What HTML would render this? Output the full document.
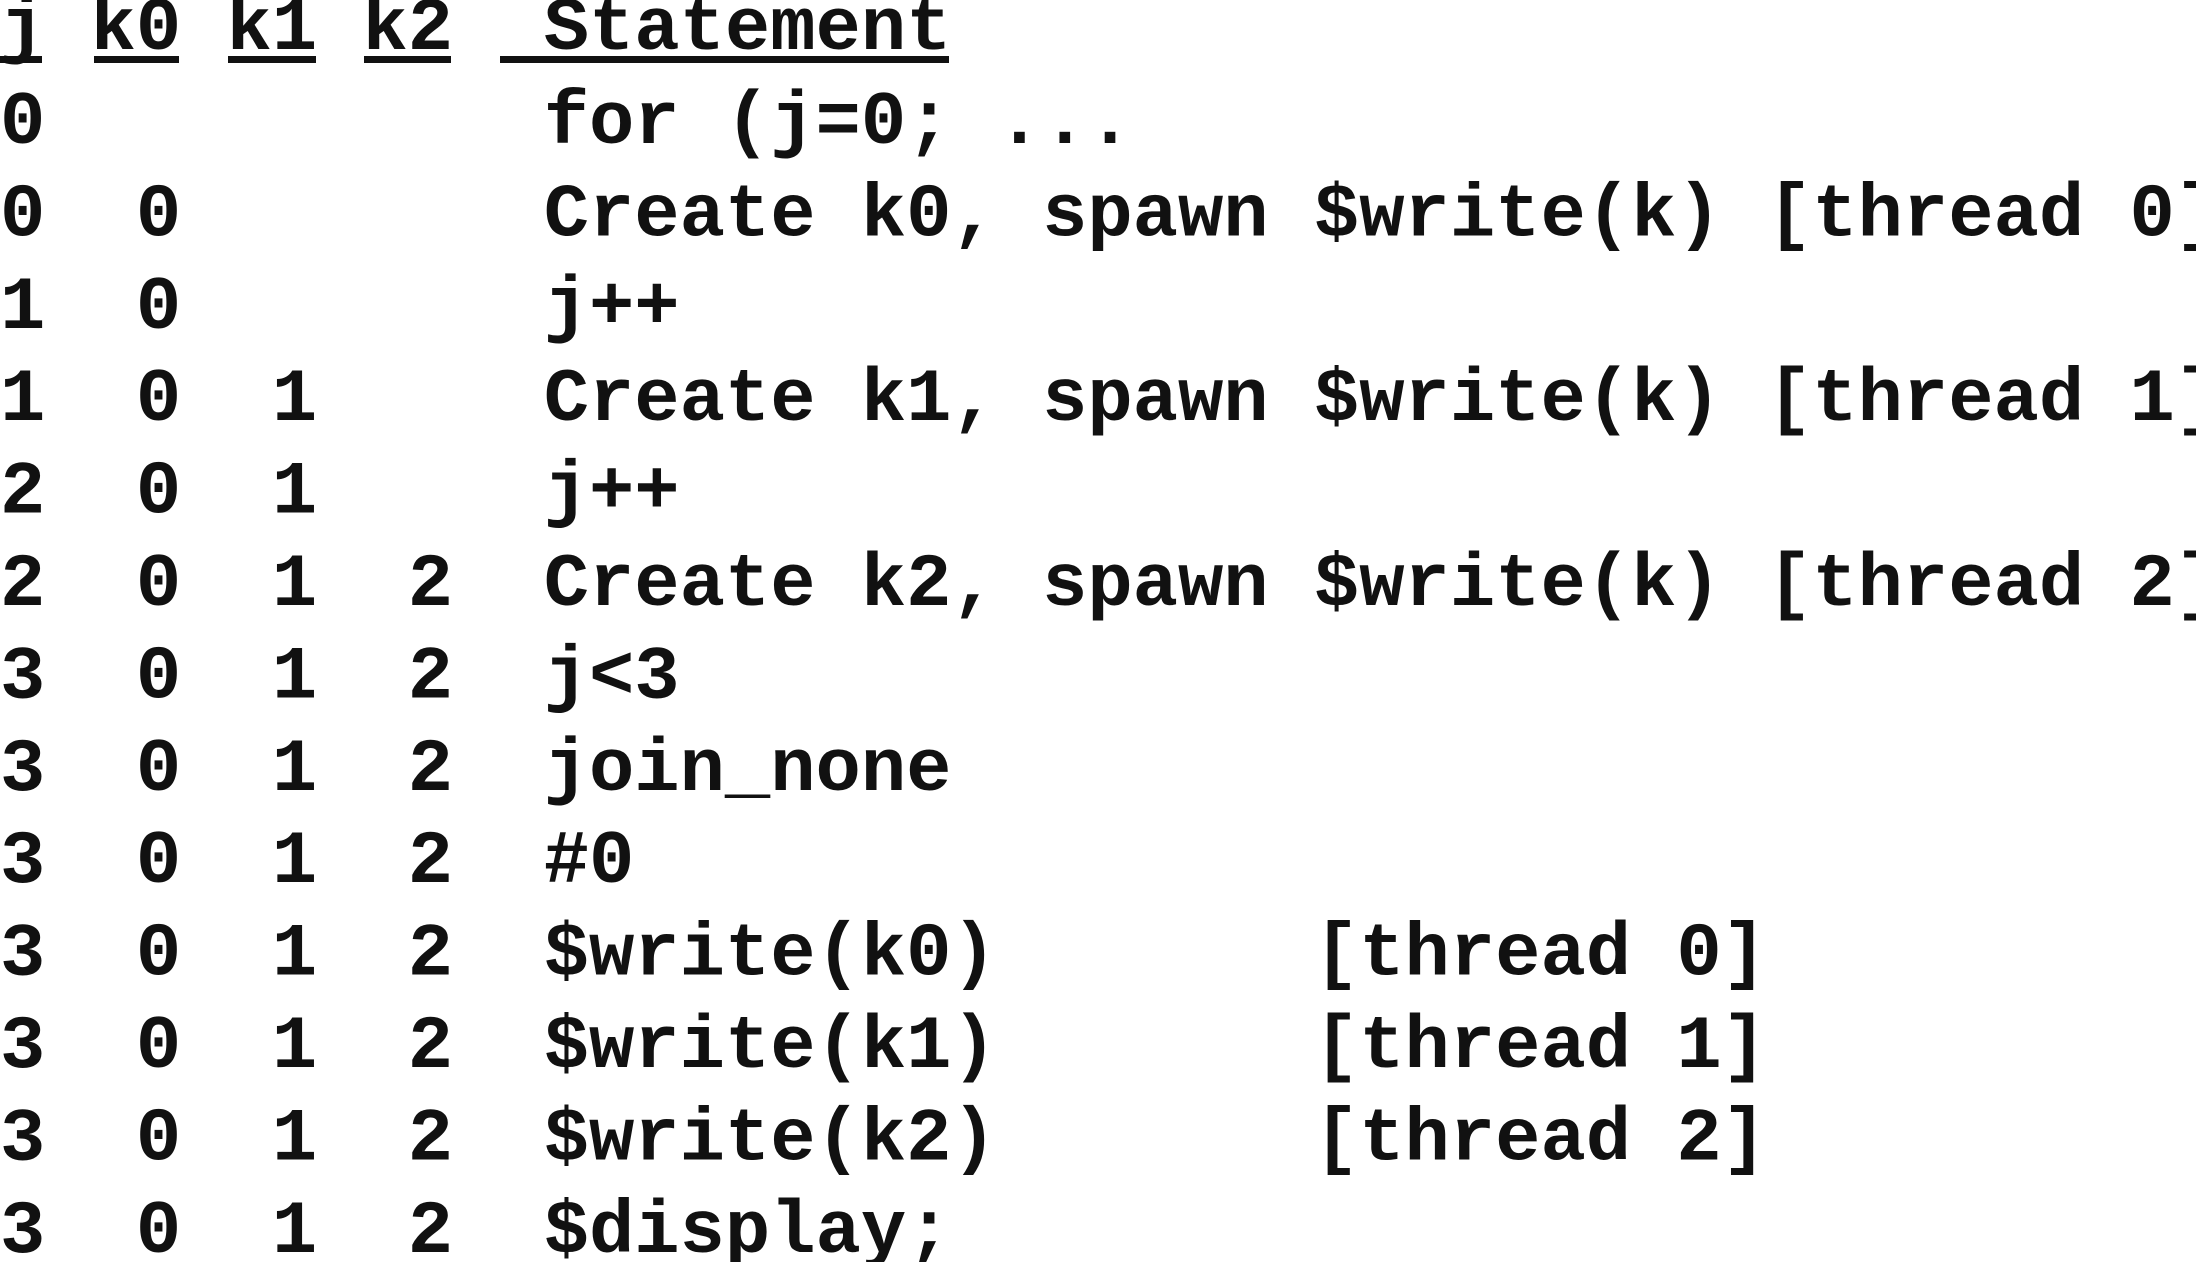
<!DOCTYPE html>
<html><head><meta charset="utf-8"><style>
html,body{margin:0;padding:0;background:#fff;width:2196px;height:1262px;overflow:hidden}
svg text{font-family:"Liberation Mono",monospace;font-weight:bold;font-size:75.5px;fill:#111;white-space:pre}
</style></head><body>
<svg width="2196" height="1262" xmlns="http://www.w3.org/2000/svg" xml:space="preserve">
<text x="0" y="49">j k0 k1 k2  Statement</text>
<rect x="0" y="56" width="42" height="7" fill="#111"/>
<rect x="94" y="56" width="85" height="7" fill="#111"/>
<rect x="228" y="56" width="88" height="7" fill="#111"/>
<rect x="364" y="56" width="87" height="7" fill="#111"/>
<rect x="500" y="56" width="449" height="7" fill="#111"/>
<text x="0" y="143">0           for (j=0; ...</text>
<text x="0" y="235.4">0  0        Create k0, spawn $write(k) [thread 0]</text>
<text x="0" y="327.8">1  0        j++</text>
<text x="0" y="420.2">1  0  1     Create k1, spawn $write(k) [thread 1]</text>
<text x="0" y="512.6">2  0  1     j++</text>
<text x="0" y="605">2  0  1  2  Create k2, spawn $write(k) [thread 2]</text>
<text x="0" y="697.4">3  0  1  2  j&lt;3</text>
<text x="0" y="789.8">3  0  1  2  join_none</text>
<text x="0" y="882.2">3  0  1  2  #0</text>
<text x="0" y="974.6">3  0  1  2  $write(k0)       [thread 0]</text>
<text x="0" y="1067">3  0  1  2  $write(k1)       [thread 1]</text>
<text x="0" y="1159.4">3  0  1  2  $write(k2)       [thread 2]</text>
<text x="0" y="1251.8">3  0  1  2  $display;</text>
</svg>
</body></html>
